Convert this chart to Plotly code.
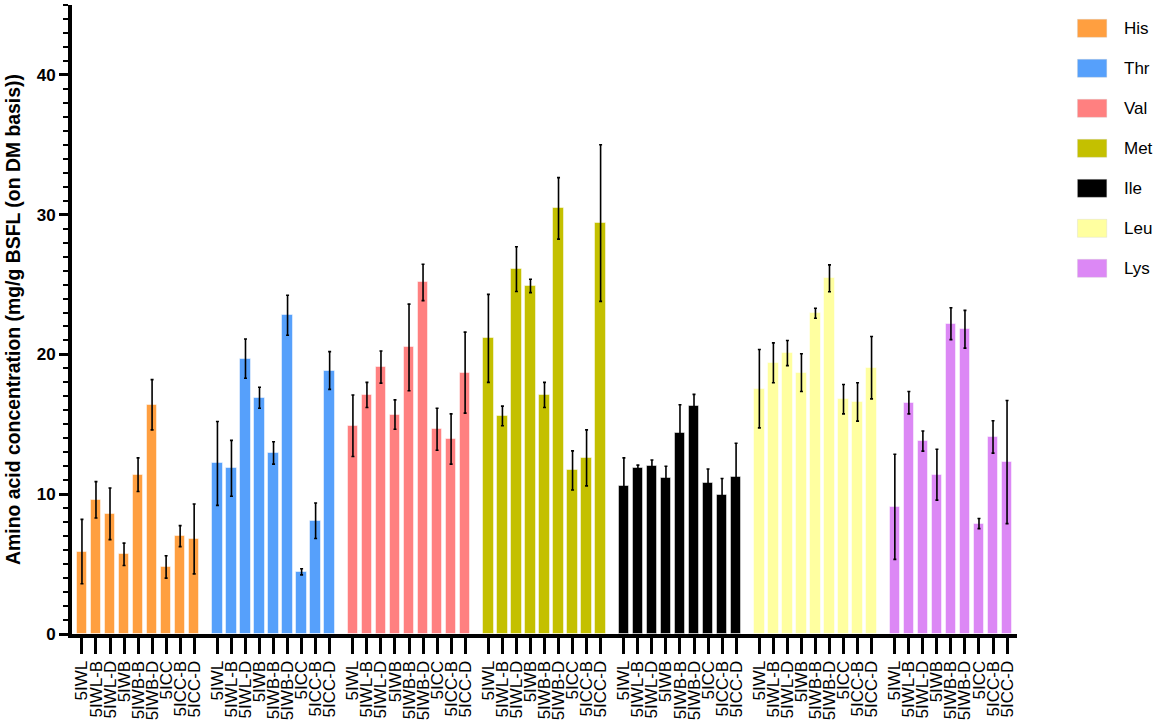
import plotly.graph_objects as go

samples = ["5IWL", "5IWL-B", "5IWL-D", "5IWB", "5IWB-B", "5IWB-D", "5ICC", "5ICC-B", "5ICC-D"]
amino_acids = ["His", "Thr", "Val", "Met", "Ile", "Leu", "Lys"]
colors = ["#FF9F40", "#56A0FB", "#FF8080", "#C4C000", "#000000", "#FFFFA0", "#DC88F5"]

his = [5.9, 9.6, 8.6, 5.7, 11.4, 16.4, 4.8, 7.0, 6.8]
his_err = [2.3, 1.3, 1.85, 0.8, 1.2, 1.8, 0.8, 0.75, 2.5]
thr = [12.2, 11.85, 19.7, 16.9, 12.95, 22.8, 4.45, 8.1, 18.85]
thr_err = [3.0, 2.0, 1.4, 0.75, 0.8, 1.43, 0.22, 1.27, 1.35]
val = [14.9, 17.1, 19.1, 15.7, 20.5, 25.15, 14.65, 13.95, 18.7]
val_err = [2.2, 0.9, 1.15, 1.05, 3.1, 1.3, 1.5, 1.8, 2.9]
met = [21.15, 15.6, 26.1, 24.9, 17.1, 30.45, 11.7, 12.6, 29.4]
met_err = [3.15, 0.7, 1.6, 0.48, 0.9, 2.2, 1.4, 2.0, 5.6]
ile = [10.6, 11.85, 12.0, 11.15, 14.4, 16.3, 10.8, 9.95, 11.25]
ile_err = [2.0, 0.23, 0.45, 0.85, 2.0, 0.84, 1.0, 1.17, 2.4]
leu = [17.55, 19.4, 20.1, 18.7, 22.95, 25.45, 16.8, 16.6, 19.05]
leu_err = [2.8, 1.43, 0.9, 1.35, 0.36, 0.96, 1.05, 1.37, 2.23]
lys = [9.1, 16.55, 13.8, 11.4, 22.2, 21.8, 7.9, 14.1, 12.3]
lys_err = [3.76, 0.8, 0.72, 1.82, 1.14, 1.35, 0.36, 1.16, 4.4]

values = [his, thr, val, met, ile, leu, lys]
errors = [his_err, thr_err, val_err, met_err, ile_err, leu_err, lys_err]

FONT = "Arial, Liberation Sans, sans-serif"
GROUP_GAP = 0.66
fig = go.Figure()
tickvals, ticktext = [], []
for g, (name, col, vals, errs) in enumerate(zip(amino_acids, colors, values, errors)):
    xs = [g * (len(samples) + GROUP_GAP) + i for i in range(len(samples))]
    tickvals += xs
    ticktext += samples
    fig.add_trace(go.Bar(
        x=xs, y=vals, name=name, width=0.74,
        marker=dict(color=col, line=dict(color="rgba(255,255,255,0.5)", width=1)),
        error_y=dict(type="data", array=errs, visible=True, color="black", thickness=1.6, width=1.5),
        showlegend=False,
    ))

# manual legend (swatches + labels)
for k, (name, col) in enumerate(zip(amino_acids, colors)):
    yc = 0.963 - k * 0.0636
    fig.add_shape(type="rect", xref="paper", yref="paper",
                  x0=1.064, x1=1.095, y0=yc - 0.0143, y1=yc + 0.0143,
                  fillcolor=col, line=dict(color="rgba(200,200,200,0.6)", width=0.5))
    fig.add_annotation(xref="paper", yref="paper", x=1.111, y=yc, text=name,
                       showarrow=False, xanchor="left", yanchor="middle",
                       font=dict(size=17, color="black", family=FONT))

lastx = tickvals[-1]
fig.update_layout(
    width=1159, height=724,
    margin=dict(l=72, r=142, t=5, b=90),
    plot_bgcolor="white", paper_bgcolor="white",
    bargap=0,
    font=dict(family=FONT, color="black"),
    xaxis=dict(
        range=[-0.71, lastx + 0.71], automargin=False,
        tickmode="array", tickvals=tickvals, ticktext=ticktext,
        tickangle=-90, ticks="outside", ticklen=16, tickwidth=3, tickcolor="black",
        tickfont=dict(size=17, family=FONT),
        showline=True, linewidth=4, linecolor="black", showgrid=False, zeroline=False,
    ),
    yaxis=dict(
        range=[0, 45], tickvals=[0, 10, 20, 30, 40], automargin=False,
        ticks="outside", ticklen=9, tickwidth=3, tickcolor="black",
        tickfont=dict(size=17, family=FONT, weight="bold"),
        minor=dict(dtick=1, ticks="outside", ticklen=5, tickwidth=2, tickcolor="black"),
        showline=True, linewidth=4, linecolor="black", showgrid=False, zeroline=False,
        title=dict(text="<b>Amino acid concentration (mg/g BSFL (on DM basis))</b>",
                   font=dict(size=19.4), standoff=12),
    ),
)

fig.write_html("out.html", post_script="document.body.style.margin='0';",
               config={"displayModeBar": False})
